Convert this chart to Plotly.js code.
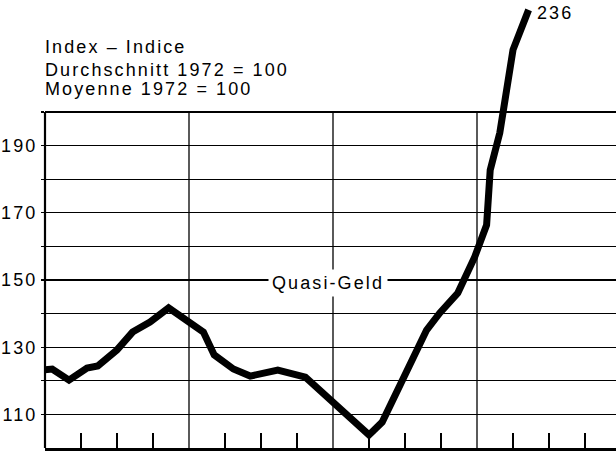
<!DOCTYPE html>
<html>
<head>
<meta charset="utf-8">
<script src="https://cdn.plot.ly/plotly-3.0.1.min.js"></script>
<style>
  html, body { margin: 0; padding: 0; background: #fff; }
  svg text { letter-spacing: 2.1px; }
</style>
</head>
<body>
<div id="chart" style="width:616px;height:453px;"></div>
<script>
// months from start of the first year shown
var months = [0, 0.6, 2.0, 3.5, 4.4, 6.0, 7.3, 8.75, 10.3, 12.7, 13.2, 14.1, 15.7, 17.1, 19.4, 21.7,
              27.0, 28.1, 29.6, 30.8, 31.8, 32.9, 34.4, 35.8, 36.8, 37.1, 37.9, 39.0, 40.3];
// Quasi-Geld index (1972 = 100)
var quasiGeld = [123.3, 123.5, 120.2, 123.8, 124.4, 129.2, 134.5, 137.5, 141.7, 135.7, 134.5, 127.7, 123.5, 121.4, 123.2, 121.1,
                 103.9, 107.7, 119.3, 128.3, 135.1, 140.2, 146.1, 156.8, 166.4, 182.7, 193.8, 218.5, 230.4];
var yTickVals = [110, 120, 130, 140, 150, 160, 170, 180, 190, 200];
var yTickText = ['110', '', '130', '', '150', '', '170', '', '190', ''];
var quarterTicks = [3, 6, 9, 15, 18, 21, 27, 30, 33, 39, 42, 45];
var yearLines = [12, 24, 36];
var seriesLabel = 'Quasi-Geld';
var endLabel = '236';
var titleLines = ['Index – Indice', 'Durchschnitt 1972 = 100', 'Moyenne 1972 = 100'];

var FONT = 'Liberation Sans, Arial, Helvetica, sans-serif';

var shapes = [];
yearLines.forEach(function (m) {
  shapes.push({type: 'line', xref: 'x', yref: 'y', x0: m, x1: m, y0: 100, y1: 200,
               line: {color: '#000', width: 1.3}, layer: 'below'});
});
shapes.push({type: 'line', xref: 'paper', yref: 'y', x0: 0, x1: 0, y0: 100, y1: 200,
             line: {color: '#000', width: 2.2}, layer: 'below'});
shapes.push({type: 'line', xref: 'paper', yref: 'y', x0: 0, x1: 1, y0: 200, y1: 200,
             line: {color: '#000', width: 2.2}, layer: 'below'});

var annotations = [
  {xref: 'x', yref: 'y', x: 23.6, y: 149.1, text: seriesLabel, showarrow: false,
   xanchor: 'center', yanchor: 'middle', bgcolor: '#fff', borderpad: 3,
   font: {family: FONT, size: 18, color: '#000'}},
  {xref: 'x', yref: 'y', x: 40.85, y: 229.6, text: endLabel, showarrow: false,
   xanchor: 'left', yanchor: 'middle', font: {family: FONT, size: 18, color: '#000'}},
  {xref: 'paper', yref: 'y', x: 0, y: 219.4, text: titleLines[0], showarrow: false, xshift: -2,
   xanchor: 'left', yanchor: 'middle', font: {family: FONT, size: 18, color: '#000'}},
  {xref: 'paper', yref: 'y', x: 0, y: 212.6, text: titleLines[1], showarrow: false, xshift: -2,
   xanchor: 'left', yanchor: 'middle', font: {family: FONT, size: 18, color: '#000'}},
  {xref: 'paper', yref: 'y', x: 0, y: 206.9, text: titleLines[2], showarrow: false, xshift: -2,
   xanchor: 'left', yanchor: 'middle', font: {family: FONT, size: 18, color: '#000'}}
];

var data = [{
  type: 'scatter', mode: 'lines', x: months, y: quasiGeld,
  line: {color: '#000', width: 7, shape: 'linear'},
  hoverinfo: 'skip'
}];

var layout = {
  width: 616, height: 453,
  margin: {l: 45, r: 0, t: 2, b: 5, pad: 0},
  paper_bgcolor: '#fff', plot_bgcolor: '#fff',
  showlegend: false,
  xaxis: {
    range: [0, 571 / 12], showgrid: false, zeroline: false,
    showline: true, linecolor: '#000', linewidth: 2.5,
    tickmode: 'array', tickvals: quarterTicks, ticks: 'inside', ticklen: 15,
    tickwidth: 1.3, tickcolor: '#000', showticklabels: false, fixedrange: true
  },
  yaxis: {
    range: [100, 100 + 446 / 3.36], showgrid: true, gridcolor: '#000', gridwidth: 1.3,
    zeroline: false, showline: false,
    tickmode: 'array', tickvals: yTickVals, ticktext: yTickText,
    ticks: 'outside', ticklen: 3, tickwidth: 1.3, tickcolor: '#000',
    tickfont: {family: FONT, size: 18, color: '#000'}, fixedrange: true
  },
  shapes: shapes,
  annotations: annotations
};

Plotly.newPlot('chart', data, layout, {displayModeBar: false, staticPlot: true});
</script>
</body>
</html>
